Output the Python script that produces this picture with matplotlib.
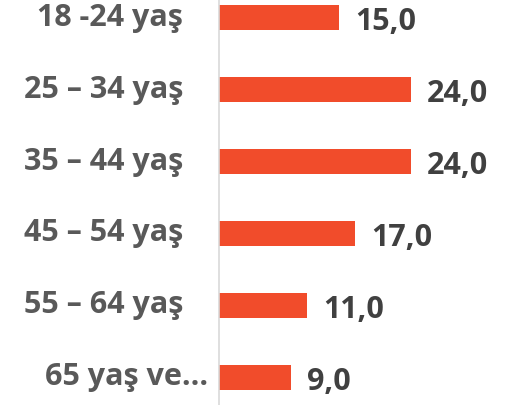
import matplotlib
matplotlib.use("Agg")
import matplotlib.pyplot as plt
from matplotlib.transforms import offset_copy

categories = ["18 -24 yaş", "25 – 34 yaş", "35 – 44 yaş", "45 – 54 yaş", "55 – 64 yaş", "65 yaş ve..."]
values = [15.0, 24.0, 24.0, 17.0, 11.0, 9.0]
value_labels = ["15,0", "24,0", "24,0", "17,0", "11,0", "9,0"]

fig = plt.figure(figsize=(5.05, 4.06), dpi=100)
ax = fig.add_axes([219 / 505, 0, 1 - 219 / 505, 1])
ypos = list(range(len(categories)))
ax.barh(ypos, values, height=0.35, color="#F14C2B", zorder=2)
ax.set_xlim(0, (505 - 219) / 8)
ax.set_ylim((406 - 18.5) / 72, -18.5 / 72)
for s in ["top", "right", "bottom"]:
    ax.spines[s].set_visible(False)
ax.spines["left"].set_color("#d9d9d9")
ax.spines["left"].set_linewidth(1.2)
ax.set_xticks([])
ax.set_yticks([])

font = dict(family="Open Sans", weight="bold", fontsize=22)
for i, (c, v, lab) in enumerate(zip(categories, values, value_labels)):
    off = -11 if i == len(categories) - 1 else -36
    tr = offset_copy(ax.transData, fig=fig, x=off, y=1, units="dots")
    ax.text(0, i, c, ha="right", va="center", color="#595959", transform=tr, **font)
    tr2 = offset_copy(ax.transData, fig=fig, x=16, y=-3, units="dots")
    ax.text(v, i, lab, ha="left", va="center", color="#404040", transform=tr2, **font)

fig.savefig("out.png", dpi=100)
